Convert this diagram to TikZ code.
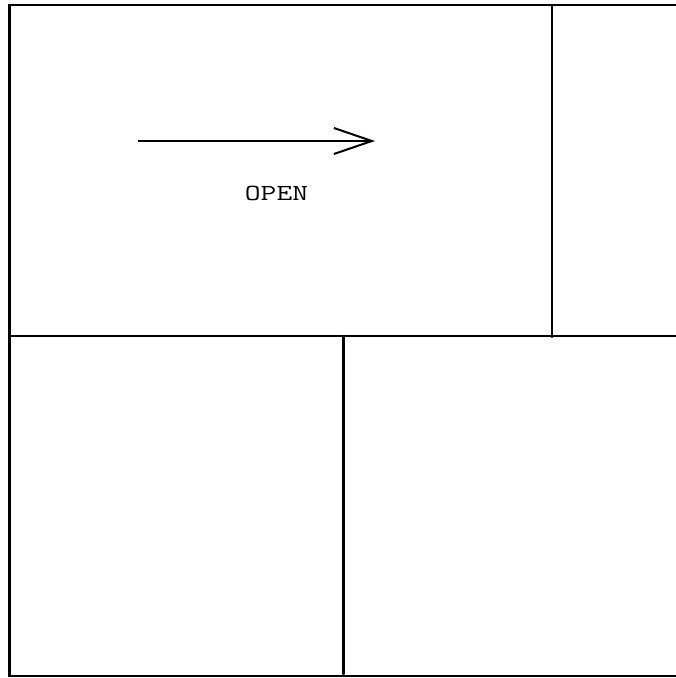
\documentclass[tikz,border=0pt]{standalone}
\usetikzlibrary{arrows.meta}
\begin{document}
\begin{tikzpicture}[x=1pt,y=-1pt,
  wall/.style={line width=2.4pt,line cap=round,black},
  lbl/.style={font=\ttfamily\fontsize{23}{26}\selectfont,inner sep=0pt}]
\useasboundingbox (0,0) rectangle (676,678);
% frame
\coordinate (tl) at (9.5,5);
\coordinate (tr) at (676,5);
\coordinate (bl) at (9.5,676);
\coordinate (br) at (676,676);
\draw[wall] (tr) -- (tl) -- (bl) -- (br);
% partitions
\coordinate (v1t) at (552,5);
\coordinate (v1b) at (552,337);
\draw[wall] (v1t) -- (v1b);
\coordinate (hl) at (9.5,336);
\coordinate (hr) at (676,336);
\draw[wall] (hl) -- (hr);
\coordinate (v2t) at (343.5,336);
\coordinate (v2b) at (343.5,674);
\draw[wall] (v2t) -- (v2b);
% arrow
\coordinate (as) at (138,141);
\coordinate (ae) at (375,141);
\draw[line width=2pt,-{Straight Barb[length=38pt,width=26pt,line width=2pt]}] (as) -- (ae);
\node[lbl,xscale=1.33] (open) at (276.5,193.5) {OPEN};
\end{tikzpicture}
\end{document}
